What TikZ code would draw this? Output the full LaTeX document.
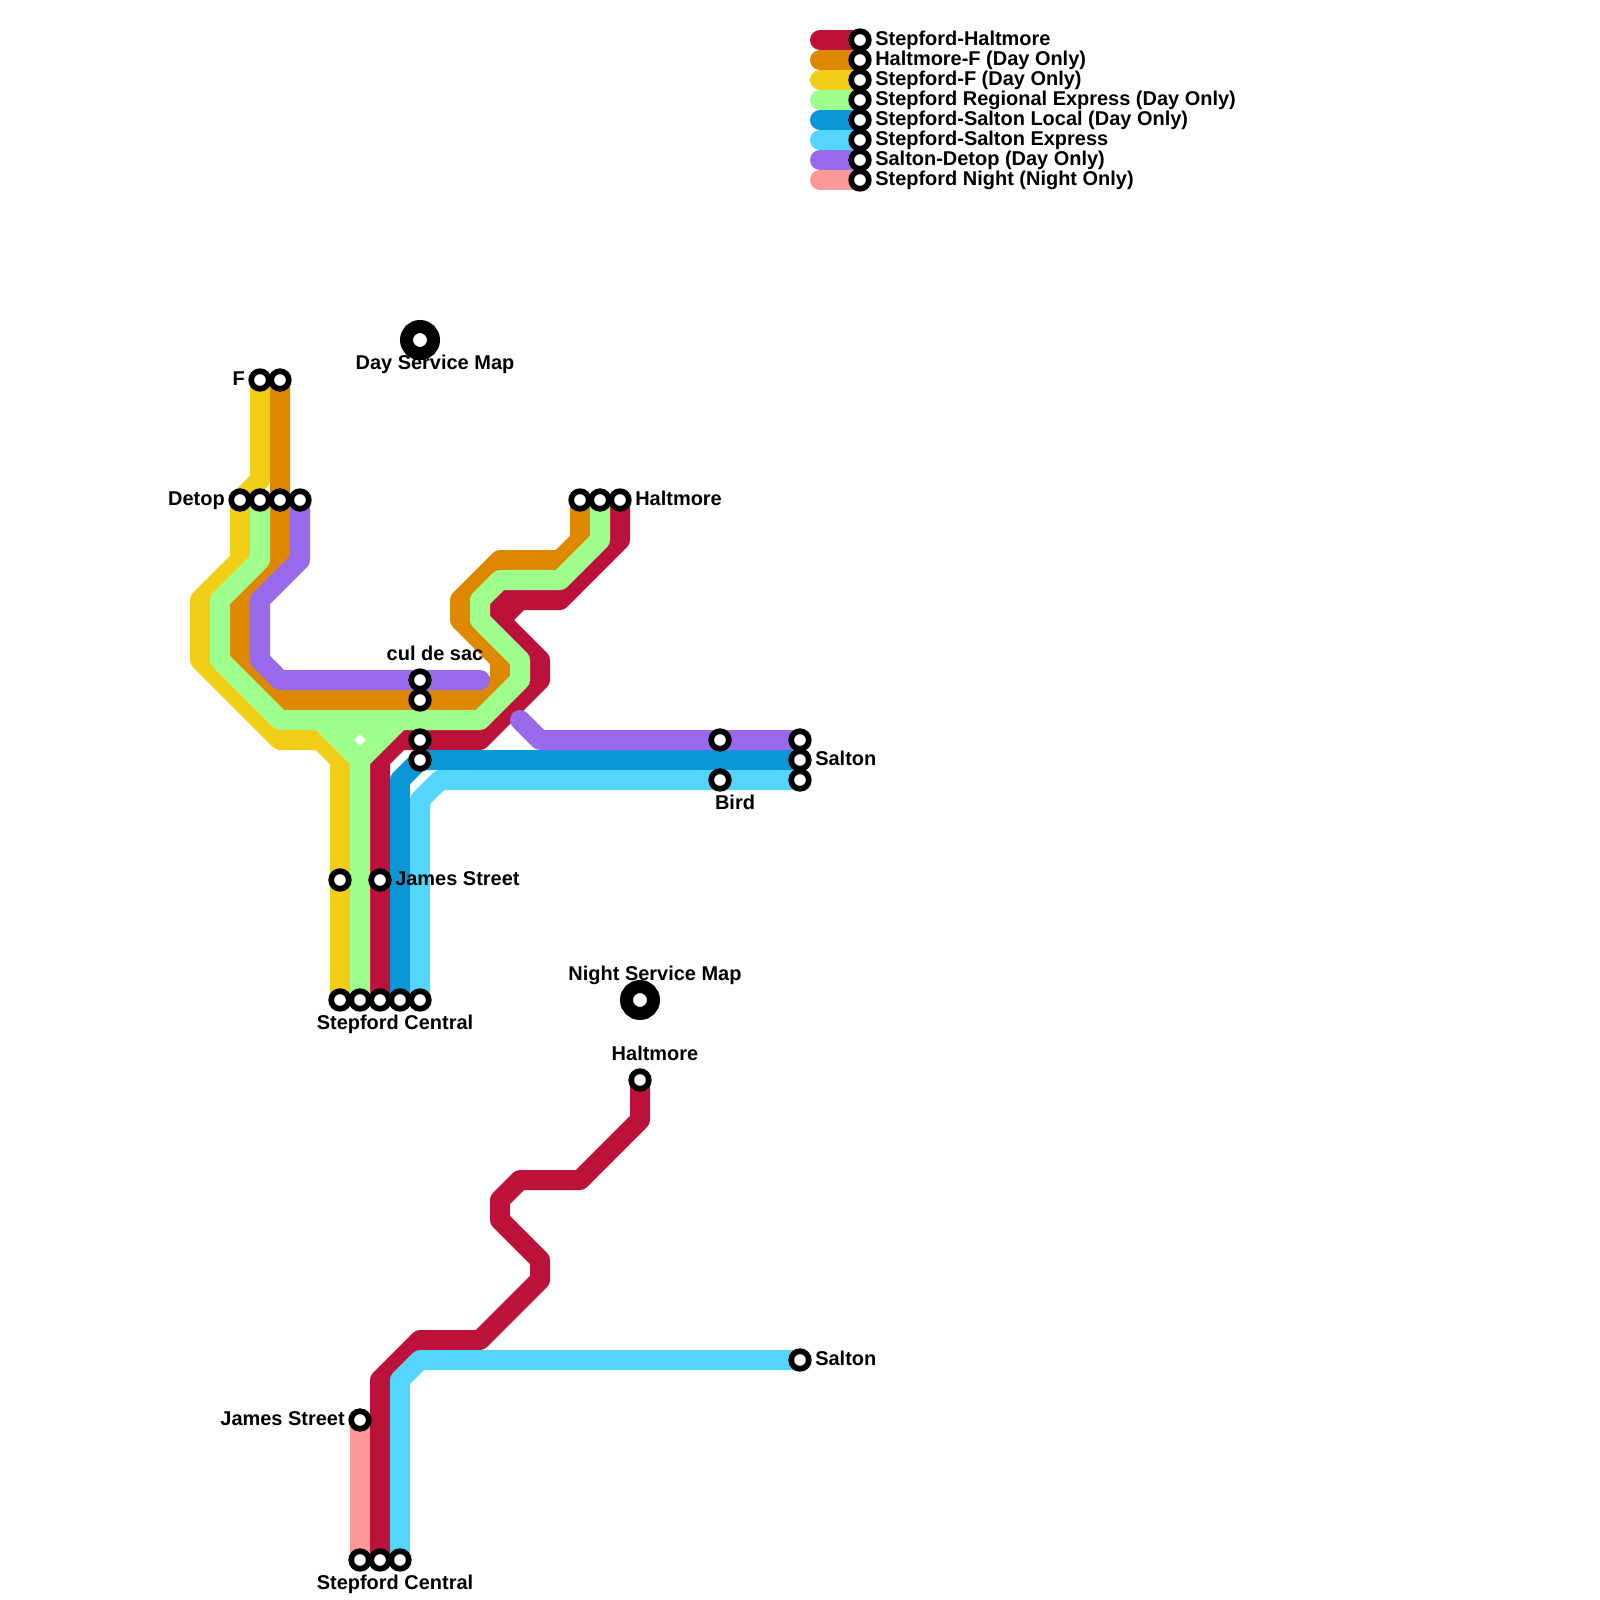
\documentclass[tikz,border=0pt]{standalone}
\usepackage{fontspec}
\setmainfont{Liberation Sans}
\usetikzlibrary{positioning}
\definecolor{haltred}{HTML}{BC1239}
\definecolor{haltorange}{HTML}{DE8700}
\definecolor{fyellow}{HTML}{F0CE15}
\definecolor{regiongreen}{HTML}{9EFF8D}
\definecolor{localblue}{HTML}{0896D7}
\definecolor{exprcyan}{HTML}{53D5FD}
\definecolor{detoppurple}{HTML}{9969EC}
\definecolor{nightpink}{HTML}{FF9898}
\tikzset{
  route/.style={line width=5mm, line join=round, line cap=round},
  stn/.style={circle, draw=black, fill=white, line width=1.43mm, minimum size=4.4mm, inner sep=0pt},
  hub/.style={circle, draw=black, fill=white, line width=3.25mm, minimum size=6.75mm, inner sep=0pt},
  lbl/.style={font=\bfseries\fontsize{14.2}{16}\selectfont, inner sep=0pt},
  lblR/.style={lbl, anchor=base west, xshift=3.75mm, yshift=-1.3mm},
  lblL/.style={lbl, anchor=base east, xshift=-3.75mm, yshift=-1.3mm},
  lblA/.style={lbl, anchor=base, xshift=3.75mm, yshift=5mm},
  lblB/.style={lbl, anchor=base, xshift=3.75mm, yshift=-7.4mm}
}
\begin{document}
\begin{tikzpicture}[x=0.25mm, y=-0.25mm, node distance=5mm]
    \useasboundingbox (0,0) rectangle (1600,1600);

    % day map stations
    \coordinate (f1) at (260,380);
    \coordinate[right=of f1] (f2);
    \coordinate (detop1) at (240,500);
    \coordinate[right=of detop1] (detop2);
    \coordinate[right=of detop2] (detop3);
    \coordinate[right=of detop3] (detop4);
    \coordinate (halt1) at (580,500);
    \coordinate[right=of halt1] (halt2);
    \coordinate[right=of halt2] (halt3);
    \coordinate (cul1) at (420,680);
    \coordinate[below=of cul1] (cul2);
    \coordinate (cul3) at (420,740);
    \coordinate[below=of cul3] (cul4);
    \coordinate (bird1) at (720,740);
    \coordinate (bird2) at (720,780);
    \coordinate (salt1) at (800,740);
    \coordinate[below=of salt1] (salt2);
    \coordinate[below=of salt2] (salt3);
    \coordinate (james1) at (340,880);
    \coordinate (james2) at (380,880);
    \coordinate (cent1) at (340,1000);
    \coordinate[right=of cent1] (cent2);
    \coordinate[right=of cent2] (cent3);
    \coordinate[right=of cent3] (cent4);
    \coordinate[right=of cent4] (cent5);
    \coordinate (dayhub) at (420,340);
    \coordinate (nighthub) at (640,1000);

    % night map stations
    \coordinate (lowhalt) at (640,1080);
    \coordinate (lowsalt) at (800,1360);
    \coordinate (lowjames) at (360,1420);
    \coordinate (lowcent1) at (360,1560);
    \coordinate[right=of lowcent1] (lowcent2);
    \coordinate[right=of lowcent2] (lowcent3);

    % key
    \foreach \k/\c [count=\i] in {a/haltred,b/haltorange,c/fyellow,d/regiongreen,e/localblue,f/exprcyan,g/detoppurple,h/nightpink} {
      \coordinate (key\k) at (860,{20+20*\i});
      \coordinate (from\k) at (820,{20+20*\i});
      \draw[route,\c] (from\k) -- (key\k);
    }

    % day lines
    \draw[route,haltred] (halt3) -- (620,540) -- (560,600) -- (500,600) -- (500,620)
      -- (540,660) -- (540,680) -- (480,740) -- (400,740) -- (380,760) -- (cent3);
    \draw[route,haltred] (520,600) -- (500,620);
    \draw[route,haltorange] (f2) -- (280,560) -- (240,600) -- (240,660) -- (280,700) -- (480,700)
      -- (500,680) -- (500,660) -- (460,620) -- (460,600) -- (500,560) -- (560,560) -- (580,540) -- (halt1);
    \draw[route,fyellow] (f1) -- (260,480) -- (240,500) -- (240,560) -- (200,600) -- (200,660)
      -- (280,740) -- (320,740) -- (340,760) -- (cent1);
    \draw[route,regiongreen] (detop2) -- (260,560) -- (220,600) -- (220,660) -- (280,720) -- (480,720)
      -- (520,680) -- (520,660) -- (480,620) -- (480,600) -- (500,580) -- (560,580) -- (600,540) -- (halt2);
    \draw[route,regiongreen] (320,720) -- (360,760) -- (400,720);
    \draw[route,regiongreen] (360,760) -- (cent2);
    \fill[regiongreen] (335,725) -- (385,725) -- (360,750) -- cycle;
    \fill[white] (360,734.3) -- (365.7,740) -- (360,745.7) -- (354.3,740) -- cycle;
    \draw[route,localblue] (salt2) -- (420,760) -- (400,780) -- (cent4);
    \draw[route,exprcyan] (salt3) -- (440,780) -- (420,800) -- (cent5);
    \draw[route,detoppurple] (detop4) -- (300,560) -- (260,600) -- (260,660) -- (280,680) -- (480,680);
    \draw[route,detoppurple] (salt1) -- (540,740) -- (520,720);

    % night lines
    \draw[route,haltred] (lowhalt) -- (640,1120) -- (580,1180) -- (520,1180) -- (500,1200) -- (500,1220)
      -- (540,1260) -- (540,1280) -- (480,1340) -- (420,1340) -- (380,1380) -- (lowcent2);
    \draw[route,exprcyan] (lowsalt) -- (420,1360) -- (400,1380) -- (lowcent3);
    \draw[route,nightpink] (lowjames) -- (lowcent1);

    % station markers
    \foreach \s in {f1,f2,detop1,detop2,detop3,detop4,halt1,halt2,halt3,cul1,cul2,cul3,cul4,
      bird1,bird2,salt1,salt2,salt3,james1,james2,cent1,cent2,cent3,cent4,cent5,
      lowhalt,lowsalt,lowjames,lowcent1,lowcent2,lowcent3,keya,keyb,keyc,keyd,keye,keyf,keyg,keyh}
      \node[stn] (st\s) at (\s) {};
    \node[hub] (stdayhub) at (dayhub) {};
    \node[hub] (stnighthub) at (nighthub) {};

    % names
    \node[lblL] (tF) at (f1) {F};
    \node[lblL] (tDetop) at (detop1) {Detop};
    \node[lblR] (tHalt) at (halt3) {Haltmore};
    \node[lblA] (tCul) at (cul1) {cul de sac};
    \node[lblR] (tSalt) at (salt2) {Salton};
    \node[lblB] (tBird) at (bird2) {Bird};
    \node[lblR] (tJames) at (james2) {James Street};
    \node[lblB] (tCent) at (cent3) {Stepford Central};
    \node[lblB] (tDay) at (dayhub) {Day Service Map};
    \node[lblA] (tNight) at (nighthub) {Night Service Map};
    \node[lblA] (tLowHalt) at (lowhalt) {Haltmore};
    \node[lblR] (tLowSalt) at (lowsalt) {Salton};
    \node[lblL] (tLowJames) at (lowjames) {James Street};
    \node[lblB] (tLowCent) at (lowcent2) {Stepford Central};

    % key names
    \node[lblR] (ta) at (keya) {Stepford-Haltmore};
    \node[lblR] (tb) at (keyb) {Haltmore-F (Day Only)};
    \node[lblR] (tc) at (keyc) {Stepford-F (Day Only)};
    \node[lblR] (td) at (keyd) {Stepford Regional Express (Day Only)};
    \node[lblR] (te) at (keye) {Stepford-Salton Local (Day Only)};
    \node[lblR] (tf) at (keyf) {Stepford-Salton Express};
    \node[lblR] (tg) at (keyg) {Salton-Detop (Day Only)};
    \node[lblR] (th) at (keyh) {Stepford Night (Night Only)};
\end{tikzpicture}
\end{document}
